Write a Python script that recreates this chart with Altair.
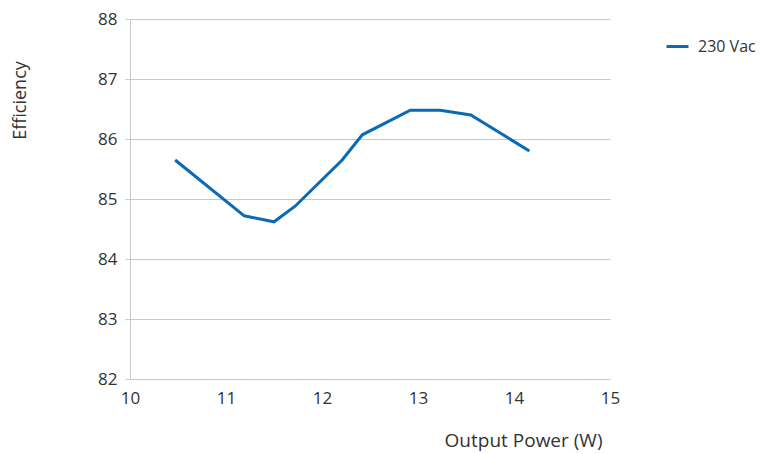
import altair as alt
import pandas as pd

output_power = [10.47, 11.19, 11.5, 11.72, 12.21, 12.42, 12.92, 13.23, 13.55, 14.16]
efficiency = [85.65, 84.72, 84.62, 84.88, 85.65, 86.07, 86.48, 86.48, 86.4, 85.8]
series = ["230 Vac"] * len(output_power)

df = pd.DataFrame({"power": output_power, "eff": efficiency, "series": series})

FONT = "Open Sans"
TXT = "#333333"
GRID = "#c8c8c8"

chart = alt.Chart(df).mark_line(strokeWidth=3).encode(
    x=alt.X("power:Q",
            scale=alt.Scale(domain=[10, 15], nice=False, zero=False),
            axis=alt.Axis(values=[10, 11, 12, 13, 14, 15], format="d",
                          title="Output Power (W)", grid=False, ticks=False,
                          domainColor=GRID, labelPadding=11, labelFlush=False,
                          labelFontSize=17, labelColor=TXT, labelFont=FONT,
                          titleFont=FONT, titleFontSize=19, titleFontWeight="normal",
                          titleColor=TXT, titleAlign="right", titleAnchor="start",
                          titleX=472, titleY=61, titleBaseline="middle")),
    y=alt.Y("eff:Q",
            scale=alt.Scale(domain=[82, 88], nice=False, zero=False),
            axis=alt.Axis(values=[82, 83, 84, 85, 86, 87, 88], format="d",
                          title="Efficiency", grid=True, gridColor=GRID,
                          domainColor=GRID, tickColor=GRID, tickSize=5,
                          labelPadding=8, labelFontSize=17, labelColor=TXT,
                          labelFont=FONT, titleFont=FONT, titleFontSize=18,
                          titleFontWeight="normal", titleColor=TXT,
                          titleAngle=270, titleX=-110, titleY=81,
                          titleAlign="center", titleBaseline="middle")),
    color=alt.Color("series:N",
                    scale=alt.Scale(range=["#0a6ab6"]),
                    legend=alt.Legend(title=None, orient="none", legendX=535, legendY=15,
                                      symbolType="stroke", symbolSize=484,
                                      symbolStrokeWidth=3, labelFont=FONT,
                                      labelFontSize=16, labelColor=TXT,
                                      labelOffset=8, labelLimit=200)),
).properties(
    width=480, height=360,
    padding={"left": 122, "top": 11, "right": 145, "bottom": 74},
    autosize=alt.AutoSizeParams(type="none"),
).configure_view(stroke=None)

chart.save("out.html", embed_options={"renderer": "svg", "actions": False})
